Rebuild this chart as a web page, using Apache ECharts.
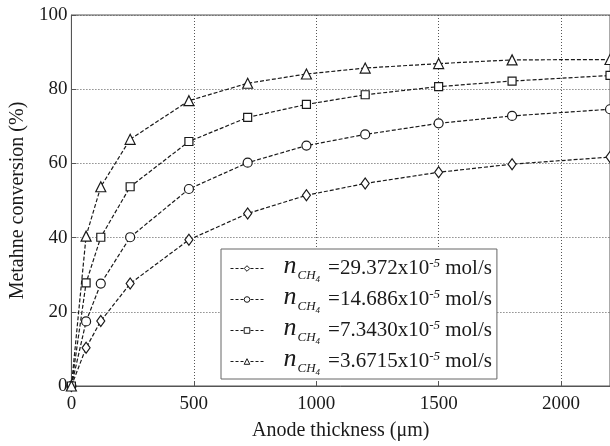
<!DOCTYPE html>
<html>
<head>
<meta charset="utf-8">
<script src="https://cdn.jsdelivr.net/npm/echarts@6/dist/echarts.min.js"></script>
<style>
  html, body { margin: 0; padding: 0; background: #fff; }
  #chart { width: 610px; height: 446px; }
</style>
</head>
<body>
<div id="chart"></div>
<script>
// Anode thickness (µm) at which conversion was evaluated
const thickness = [0, 60, 120, 240, 480, 720, 960, 1200, 1500, 1800, 2200];

// Methane inlet flow rates (x10^-5 mol/s), used as legend entries
const flowRates = ['29.372', '14.686', '7.3430', '3.6715'];

// Methane conversion (%) for each flow rate
const conv29372 = [0, 10.3, 17.5, 27.6, 39.4, 46.5, 51.4, 54.6, 57.6, 59.8, 61.7];
const conv14686 = [0, 17.4, 27.6, 40.1, 53.1, 60.2, 64.8, 67.8, 70.8, 72.8, 74.6];
const conv7343  = [0, 27.8, 40.1, 53.7, 65.9, 72.4, 75.9, 78.5, 80.7, 82.2, 83.7];
const conv36715 = [0, 40.4, 53.7, 66.5, 76.9, 81.6, 84.1, 85.7, 86.9, 87.9, 88.0];

const seriesValues = [conv29372, conv14686, conv7343, conv36715];
const symbols = ['diamond', 'circle', 'rect', 'triangle'];
const symbolSizes = [[8, 11], 9, 8, 10];

const serif = 'Liberation Serif';
const ink = '#1a1a1a';

const series = flowRates.map((name, i) => ({
  name: name,
  type: 'line',
  data: thickness.map((x, j) => [x, seriesValues[i][j]]),
  symbol: symbols[i],
  symbolSize: symbolSizes[i],
  showAllSymbol: true,
  lineStyle: { color: ink, width: 1.2, type: [4, 2] },
  itemStyle: { color: '#fff', borderColor: ink, borderWidth: 1.2 },
  emphasis: { disabled: true },
  animation: false
}));

const chart = echarts.init(document.getElementById('chart'), null, { renderer: 'canvas' });
chart.setOption({
  backgroundColor: '#fff',
  animation: false,
  grid: {
    left: 66, top: 15, right: -2, bottom: 57,
    show: true, borderColor: '#555', borderWidth: 1, backgroundColor: 'transparent'
  },
  xAxis: {
    type: 'value',
    min: 0, max: 2200, interval: 500,
    name: 'Anode thickness (μm)',
    nameLocation: 'middle',
    nameGap: 35,
    nameTextStyle: { fontFamily: serif, fontSize: 20, color: ink },
    axisLine: { show: true, lineStyle: { color: '#555', width: 1 } },
    axisTick: { show: true, inside: true, length: 5, lineStyle: { color: '#555' } },
    axisLabel: {
      fontFamily: serif, fontSize: 19, color: ink, margin: 9,
      showMaxLabel: false,
      formatter: v => String(v)
    },
    splitLine: { show: true, lineStyle: { color: '#555', type: [1, 2], width: 1 } }
  },
  yAxis: {
    type: 'value',
    min: 0, max: 100, interval: 20,
    name: 'Metahne conversion (%)',
    nameLocation: 'middle',
    nameGap: 38,
    nameTextStyle: { fontFamily: serif, fontSize: 20, color: ink },
    axisLine: { show: true, lineStyle: { color: '#555', width: 1 } },
    axisTick: { show: true, inside: true, length: 5, lineStyle: { color: '#555' } },
    axisLabel: { fontFamily: serif, fontSize: 19, color: ink, margin: 4, formatter: v => String(v) },
    splitLine: { show: true, lineStyle: { color: '#555', type: [1, 2], width: 1 } }
  },
  legend: {
    orient: 'vertical',
    left: 221, top: 249,
    padding: [4, 5, 2, 9],
    itemGap: 0,
    itemWidth: 33,
    itemHeight: 7,
    backgroundColor: '#fff',
    borderColor: '#666',
    borderWidth: 1,
    selectedMode: false,
    itemStyle: { color: '#fff', borderColor: ink, borderWidth: 1 },
    lineStyle: { color: ink, width: 1, type: [3, 2] },
    data: flowRates,
    formatter: name => '{n|n}{sub|CH}{sub4|4}{t|=' + name + 'x10}{sup|-5}{u| mol/s}',
    textStyle: {
      fontFamily: serif, color: ink,
      rich: {
        n: { fontFamily: serif, fontStyle: 'italic', fontSize: 26, color: ink,
             lineHeight: 24, padding: [0, 0, 4, 15] },
        sub: { fontFamily: serif, fontStyle: 'italic', fontSize: 13, color: ink,
               lineHeight: 14, padding: [14, 0, 0, 1] },
        sub4: { fontFamily: serif, fontStyle: 'italic', fontSize: 9, color: ink,
                lineHeight: 6, padding: [22, 0, 0, 0] },
        t: { fontFamily: serif, fontSize: 21, color: ink, lineHeight: 28, padding: [0, 0, 0, 8] },
        sup: { fontFamily: serif, fontStyle: 'italic', fontSize: 13, color: ink,
               lineHeight: 14, padding: [2, 0, 12, 0] },
        u: { fontFamily: serif, fontSize: 21, color: ink, lineHeight: 28 }
      }
    }
  },
  series: series
});
</script>
</body>
</html>
